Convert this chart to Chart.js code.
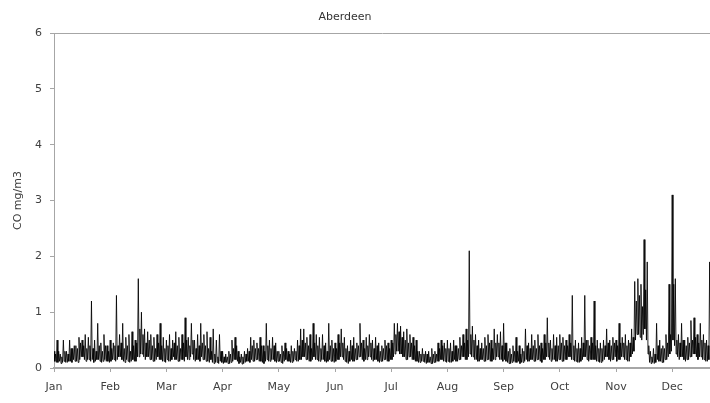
<!DOCTYPE html>
<html><head><meta charset="utf-8">
<script src="https://cdn.jsdelivr.net/npm/chart.js@4/dist/chart.umd.min.js"></script>
<style>html,body{margin:0;padding:0;background:#fff;overflow:hidden}</style>
</head><body>
<canvas id="c" width="710" height="403"></canvas>
<script>
const chartTitle = "Aberdeen";
const yAxisTitle = "CO mg/m3";
const monthLabels = ["Jan","Feb","Mar","Apr","May","Jun","Jul","Aug","Sep","Oct","Nov","Dec"];
const yTicks = [0,1,2,3,4,5,6];

// readings per month (alternating local highs and lows), mg/m3
const jan = [0.3,0.12,0.25,0.1, 0.5,0.1,0.3,0.12, 0.25,0.08,0.2,0.1, 0.5,0.12,0.3,0.1, 0.3,0.1,0.25,0.12, 0.5,0.12,0.35,0.1, 0.35,0.15,0.4,0.12, 0.4,0.12,0.35,0.1, 0.55,0.15,0.45,0.2, 0.5,0.2,0.4,0.15, 0.6,0.12,0.35,0.15, 0.55,0.15,0.4,0.12, 1.2,0.15,0.35,0.1, 0.5,0.12,0.3,0.15, 0.8,0.15,0.4,0.12, 0.45,0.1,0.3,0.12, 0.6,0.15,0.4,0.12, 0.4,0.12,0.3,0.1];
const feb = [0.5,0.12,0.35,0.15, 0.45,0.15,0.4,0.12, 1.3,0.15,0.4,0.2, 0.6,0.2,0.45,0.15, 0.8,0.12,0.35,0.1, 0.55,0.15,0.4,0.12, 0.6,0.1,0.3,0.12, 0.65,0.15,0.4,0.12, 0.5,0.12,0.45,0.2, 1.6,0.2,0.7,0.25, 1.0,0.25,0.6,0.2, 0.7,0.15,0.45,0.2, 0.65,0.2,0.5,0.15, 0.6,0.15,0.4,0.12, 0.55,0.12,0.35,0.15, 0.6,0.2,0.45,0.15, 0.8,0.15,0.4,0.12, 0.55,0.12,0.35,0.1];
const mar = [0.5,0.15,0.4,0.12, 0.6,0.12,0.35,0.15, 0.5,0.2,0.45,0.15, 0.65,0.15,0.4,0.12, 0.55,0.12,0.35,0.15, 0.6,0.15,0.45,0.12, 0.9,0.2,0.5,0.15, 0.55,0.15,0.4,0.2, 0.8,0.25,0.5,0.15, 0.5,0.12,0.35,0.15, 0.6,0.15,0.4,0.12, 0.8,0.2,0.45,0.15, 0.6,0.15,0.4,0.12, 0.65,0.12,0.35,0.1, 0.55,0.15,0.3,0.1, 0.7,0.08,0.25,0.1, 0.5,0.1,0.2,0.08, 0.6,0.12,0.3,0.1];
const apr = [0.3,0.08,0.2,0.1, 0.25,0.1,0.2,0.08, 0.3,0.08,0.25,0.1, 0.5,0.12,0.35,0.15, 0.55,0.15,0.4,0.12, 0.3,0.08,0.2,0.1, 0.25,0.07,0.2,0.08, 0.3,0.1,0.25,0.12, 0.35,0.12,0.3,0.1, 0.55,0.15,0.4,0.12, 0.5,0.12,0.35,0.15, 0.45,0.15,0.35,0.12, 0.55,0.12,0.4,0.1, 0.4,0.08,0.3,0.12, 0.8,0.15,0.4,0.12, 0.5,0.12,0.35,0.15, 0.55,0.15,0.4,0.12, 0.45,0.1,0.3,0.12];
const may = [0.3,0.12,0.25,0.1, 0.4,0.08,0.3,0.12, 0.45,0.15,0.35,0.12, 0.3,0.12,0.25,0.1, 0.4,0.1,0.3,0.12, 0.35,0.15,0.3,0.12, 0.5,0.12,0.4,0.15, 0.7,0.15,0.5,0.2, 0.7,0.2,0.45,0.15, 0.55,0.15,0.4,0.12, 0.6,0.12,0.35,0.15, 0.8,0.2,0.45,0.15, 0.6,0.15,0.4,0.12, 0.55,0.12,0.35,0.15, 0.6,0.15,0.4,0.12, 0.45,0.1,0.3,0.12, 0.8,0.15,0.4,0.12, 0.5,0.12,0.35,0.1];
const jun = [0.45,0.12,0.35,0.15, 0.6,0.15,0.45,0.2, 0.7,0.2,0.45,0.15, 0.55,0.12,0.35,0.1, 0.4,0.08,0.3,0.12, 0.5,0.15,0.4,0.12, 0.55,0.12,0.35,0.15, 0.45,0.15,0.4,0.2, 0.8,0.2,0.45,0.15, 0.5,0.12,0.35,0.15, 0.55,0.15,0.4,0.2, 0.6,0.2,0.45,0.15, 0.5,0.12,0.35,0.15, 0.55,0.15,0.4,0.12, 0.45,0.1,0.3,0.12, 0.4,0.12,0.35,0.15, 0.5,0.15,0.4,0.12, 0.45,0.12,0.35,0.15];
const jul = [0.5,0.15,0.45,0.2, 0.8,0.25,0.6,0.3, 0.8,0.3,0.65,0.25, 0.75,0.25,0.55,0.2, 0.65,0.2,0.5,0.15, 0.7,0.15,0.45,0.2, 0.6,0.2,0.45,0.15, 0.55,0.15,0.4,0.12, 0.5,0.12,0.3,0.1, 0.3,0.1,0.25,0.12, 0.35,0.12,0.25,0.1, 0.3,0.08,0.25,0.1, 0.3,0.1,0.2,0.08, 0.35,0.08,0.25,0.1, 0.3,0.1,0.25,0.12, 0.45,0.12,0.35,0.15, 0.5,0.15,0.4,0.12, 0.45,0.12,0.35,0.1];
const aug = [0.5,0.12,0.35,0.1, 0.45,0.1,0.3,0.12, 0.5,0.15,0.4,0.12, 0.4,0.12,0.35,0.15, 0.55,0.15,0.4,0.2, 0.6,0.2,0.45,0.15, 0.7,0.15,0.5,0.2, 2.1,0.25,0.6,0.2, 0.75,0.2,0.5,0.15, 0.6,0.15,0.4,0.12, 0.5,0.12,0.35,0.15, 0.45,0.15,0.35,0.12, 0.55,0.12,0.4,0.15, 0.6,0.15,0.45,0.12, 0.5,0.12,0.35,0.15, 0.7,0.15,0.45,0.2, 0.6,0.2,0.45,0.15, 0.65,0.15,0.4,0.12];
const sep = [0.8,0.15,0.45,0.12, 0.45,0.1,0.3,0.08, 0.35,0.08,0.25,0.1, 0.4,0.12,0.3,0.1, 0.55,0.1,0.3,0.12, 0.4,0.08,0.25,0.1, 0.35,0.1,0.3,0.12, 0.7,0.15,0.4,0.12, 0.45,0.12,0.35,0.15, 0.6,0.15,0.4,0.12, 0.5,0.12,0.35,0.15, 0.6,0.15,0.4,0.12, 0.45,0.1,0.35,0.15, 0.6,0.15,0.45,0.2, 0.9,0.2,0.45,0.15, 0.5,0.12,0.35,0.15, 0.6,0.15,0.4,0.12, 0.55,0.12,0.4,0.15];
const oct = [0.6,0.15,0.45,0.12, 0.55,0.12,0.4,0.15, 0.5,0.15,0.4,0.2, 0.6,0.2,0.45,0.15, 1.3,0.15,0.4,0.12, 0.5,0.12,0.35,0.1, 0.45,0.1,0.35,0.12, 0.55,0.15,0.45,0.2, 1.3,0.2,0.5,0.15, 0.5,0.12,0.4,0.15, 0.55,0.15,0.45,0.15, 1.2,0.15,0.4,0.12, 0.5,0.12,0.35,0.1, 0.45,0.1,0.35,0.12, 0.5,0.15,0.4,0.2, 0.7,0.2,0.45,0.15, 0.5,0.12,0.4,0.15, 0.55,0.15,0.45,0.2];
const nov = [0.5,0.12,0.4,0.15, 0.8,0.15,0.45,0.2, 0.55,0.2,0.45,0.15, 0.6,0.15,0.4,0.12, 0.5,0.12,0.45,0.2, 0.7,0.25,0.55,0.3, 1.55,0.5,1.2,0.6, 1.6,0.6,1.3,0.55, 1.5,0.5,1.1,0.6, 2.3,0.7,1.4,0.5, 1.9,0.25,0.4,0.1, 0.3,0.08,0.2,0.1, 0.35,0.08,0.25,0.1, 0.8,0.15,0.4,0.12, 0.5,0.12,0.35,0.1, 0.4,0.1,0.35,0.15, 0.6,0.15,0.45,0.2, 1.5,0.25,0.6,0.3];
const dec = [3.1,0.5,1.5,0.4, 1.6,0.25,0.5,0.2, 0.6,0.15,0.45,0.2, 0.8,0.2,0.5,0.15, 0.5,0.12,0.4,0.15, 0.55,0.15,0.45,0.2, 0.85,0.2,0.5,0.25, 0.9,0.25,0.55,0.2, 0.6,0.15,0.45,0.2, 0.8,0.2,0.5,0.15, 0.6,0.15,0.45,0.12, 0.5,0.12,0.4,0.15, 1.9,0.4,0.9,0.3, 0.6,0.15,0.45,0.2, 0.5,0.12,0.4,0.15, 0.6,0.15,0.45,0.2, 0.5,0.12,0.4,0.15, 0.5,0.15,0.4,0.12];
const monthValues = [jan,feb,mar,apr,may,jun,jul,aug,sep,oct,nov,dec];

const points = [];
monthValues.forEach((vals, m) => vals.forEach((v, i) => points.push({x: m + i / vals.length, y: v})));

const font = {family: "'DejaVu Sans', Verdana, sans-serif", size: 11};
const axisGray = '#a6a6a6';

const titlePlugin = {
  id: 'customTitle',
  afterDraw(chart) {
    const ctx = chart.ctx;
    ctx.save();
    ctx.font = "11px 'DejaVu Sans', Verdana, sans-serif";
    ctx.fillStyle = '#333';
    ctx.textAlign = 'center';
    ctx.textBaseline = 'middle';
    ctx.fillText(chartTitle, 345, 17);
    ctx.restore();
  }
};

new Chart(document.getElementById('c'), {
  type: 'line',
  data: {datasets: [{data: points, borderColor: 'rgba(0,0,0,0.85)', borderWidth: 1, pointRadius: 0, tension: 0, fill: false}]},
  options: {
    responsive: false, animation: false, devicePixelRatio: 1,
    layout: {padding: {top: 33, left: 0, right: 0, bottom: 0}},
    plugins: {legend: {display: false}, tooltip: {enabled: false}, title: {display: false}},
    scales: {
      x: {
        type: 'linear', min: 0, max: 656 / 56.2,
        afterBuildTicks: s => { s.ticks = monthLabels.map((_, i) => ({value: i})); },
        afterFit: s => { s.height = 35; },
        ticks: {font, color: '#404040', padding: 9, maxRotation: 0, autoSkip: false,
          callback: v => monthLabels[v]},
        grid: {drawOnChartArea: false, tickLength: 4, tickColor: axisGray},
        border: {display: true, color: axisGray, width: 2}
      },
      y: {
        min: 0, max: 6,
        afterBuildTicks: s => { s.ticks = yTicks.map(v => ({value: v})); },
        afterFit: s => { s.width = 54; },
        ticks: {font, color: '#404040', padding: 8},
        title: {display: true, text: yAxisTitle, font, color: '#404040', padding: {top: 12, bottom: 0}},
        grid: {color: c => (c.tick && c.tick.value === 6) ? axisGray : 'rgba(0,0,0,0)', tickLength: 4, tickColor: axisGray},
        border: {display: true, color: axisGray, width: 1}
      }
    }
  },
  plugins: [titlePlugin]
});
</script>
</body></html>
